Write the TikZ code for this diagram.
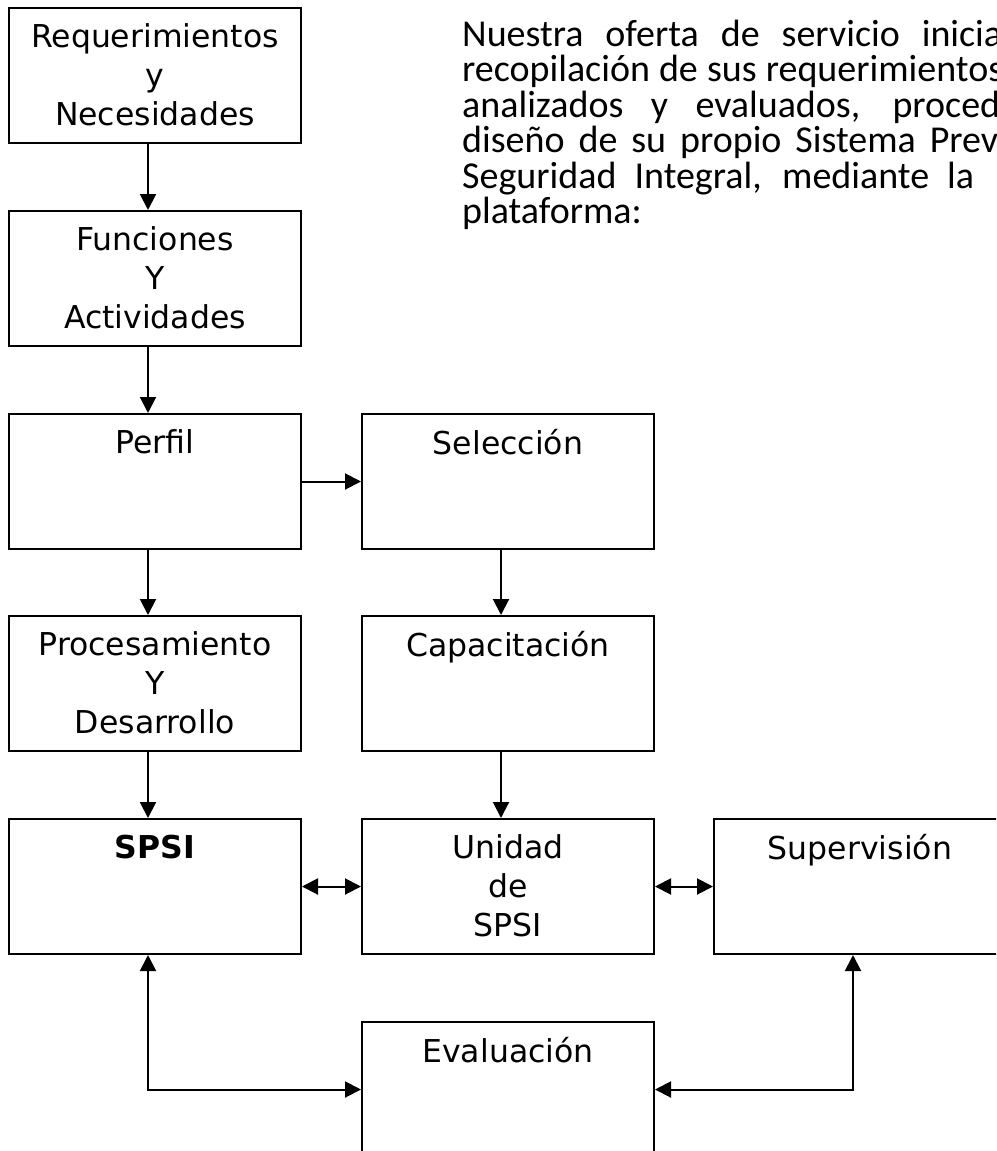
\documentclass[tikz,border=0pt]{standalone}
\usepackage{fontspec}
\newfontfamily\cajafont{DejaVu Sans}
\newfontfamily\textofont{Carlito}
\usetikzlibrary{arrows.meta}
\newcommand{\linea}[2]{\makebox[#1][s]{#2}}

\begin{document}
\begin{tikzpicture}[
 x=1pt,y=-1pt,
 caja/.style={draw,line width=2pt,minimum width=292pt,minimum height=135pt,inner sep=0pt,anchor=north west},
 rot/.style={anchor=north,inner sep=0pt,align=center,yshift=-16.5pt,font=\fontsize{31.5}{39}\selectfont\cajafont},
 flecha/.style={line width=2pt,-{Triangle[length=16pt,width=16pt]}},
 flecha2/.style={line width=2pt,{Triangle[length=16pt,width=16pt]}-{Triangle[length=16pt,width=16pt]}},
 parr/.style={anchor=base west,inner sep=0pt,font=\fontsize{38}{35.5}\selectfont\textofont},
 ]
 \useasboundingbox (0,0) rectangle (996,1151);
 \clip (0,0) rectangle (996,1151);

 %Cajas
 \node[caja,label={[rot]north:{Requerimientos\\y\\Necesidades}}] (req) at (8,7) {};
 \node[caja,label={[rot]north:{Funciones\\Y\\Actividades}}] (fun) at (8,210) {};
 \node[caja,label={[rot]north:Perfil}] (perf) at (8,413) {};
 \node[caja,label={[rot]north:Selección}] (sel) at (361,413) {};
 \node[caja,label={[rot]north:{Procesamiento\\Y\\Desarrollo}}] (proc) at (8,615) {};
 \node[caja,label={[rot]north:Capacitación}] (cap) at (361,615) {};
 \node[caja,label={[rot]north:\textbf{SPSI}}] (spsi) at (8,818) {};
 \node[caja,label={[rot]north:{Unidad\\de\\SPSI}}] (uni) at (361,818) {};
 \node[caja,label={[rot]north:Supervisión}] (sup) at (713,818) {};
 \node[caja,label={[rot]north:Evaluación}] (eval) at (361,1021) {};

 %Flechas
 \foreach \a/\b in {req/fun,fun/perf,perf/proc,proc/spsi,sel/cap,cap/uni} {
 	\draw[flecha] ([xshift=-7pt]\a.south) -- ([xshift=-7pt]\b.north);
 }
 \draw[flecha] (perf.east) -- (sel.west);
 \draw[flecha2] (spsi.east) -- (uni.west);
 \draw[flecha2] (uni.east) -- (sup.west);
 \draw[flecha2] ([xshift=-7pt]spsi.south) |- (eval.west);
 \draw[flecha2] (eval.east) -| ([xshift=-7pt]sup.south);

 %Texto
 \node[parr] (t1) at (462,46) {\linea{540pt}{Nuestra oferta de servicio inicia}};
 \node[parr] (t2) at (462,81.5) {\linea{541pt}{recopilación de sus requerimientos}};
 \node[parr] (t3) at (462,117) {\linea{538pt}{analizados y evaluados, proced}};
 \node[parr] (t4) at (462,152.5) {\linea{536pt}{diseño de su propio Sistema Prev}};
 \node[parr] (t5) at (462,188) {\linea{512pt}{Seguridad Integral, mediante la}};
 \node[parr] (t6) at (462,223.5) {plataforma:};
\end{tikzpicture}
\end{document}
